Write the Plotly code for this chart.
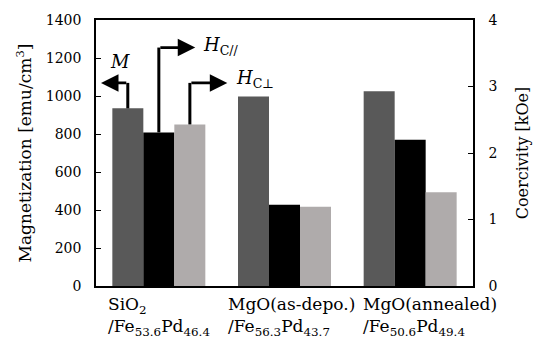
import plotly.graph_objects as go

# ---- data ----
categories = ["SiO2/Fe53.6Pd46.4", "MgO(as-depo.)/Fe56.3Pd43.7", "MgO(annealed)/Fe50.6Pd49.4"]
cat_labels = [
    "SiO<sub>2</sub><br>/Fe<sub>53.6</sub>Pd<sub>46.4</sub>",
    "MgO(as-depo.)<br>/Fe<sub>56.3</sub>Pd<sub>43.7</sub>",
    "MgO(annealed)<br>/Fe<sub>50.6</sub>Pd<sub>49.4</sub>",
]
magnetization = [935, 997, 1025]        # emu/cm3 (left axis)
hc_parallel = [2.31, 1.22, 2.20]        # kOe (right axis)
hc_perp = [2.43, 1.19, 1.41]            # kOe (right axis)

FONT = "DejaVu Serif, Liberation Serif, serif"
idx = list(range(len(categories)))

fig = go.Figure()
fig.add_trace(go.Bar(x=idx, y=magnetization, name="M", marker_color="#595959",
                     marker_line_width=0, offsetgroup="m", alignmentgroup="g", yaxis="y"))
fig.add_trace(go.Bar(x=idx, y=hc_parallel, name="Hc//", marker_color="#000000",
                     marker_line_width=0, offsetgroup="hp", alignmentgroup="g", yaxis="y2"))
fig.add_trace(go.Bar(x=idx, y=hc_perp, name="Hcperp", marker_color="#AFABAB",
                     marker_line_width=0, offsetgroup="hn", alignmentgroup="g", yaxis="y2"))

bw = 0.247  # bar width in category units (for arrow anchoring)
def to_left(v):  # convert kOe to left-axis units
    return v * 1400 / 4

shapes = []
annotations = []
# arrows: (bar x, bar top on left scale, elbow y, tip x)
arrows = [
    (0 - bw, magnetization[0], 1069, -0.46),
    (0.0, to_left(hc_parallel[0]), 1255, 0.29),
    (0 + bw, to_left(hc_perp[0]), 1069, 0.545),
]
for bx, top, ey, tx in arrows:
    shapes.append(dict(type="line", xref="x", yref="y", x0=bx, x1=bx, y0=top, y1=ey,
                       line=dict(color="black", width=3)))
    annotations.append(dict(x=tx, y=ey, ax=bx, ay=ey, xref="x", yref="y", axref="x", ayref="y",
                            text="", showarrow=True, arrowhead=2, arrowsize=1.25,
                            arrowwidth=2.8, arrowcolor="black"))

annotations.append(dict(x=-0.309, y=1183, xref="x", yref="y", text="<i>M</i>", showarrow=False,
                        font=dict(family=FONT, size=18, color="black")))
annotations.append(dict(x=0.335, y=1262, xref="x", yref="y", xanchor="left",
                        text="<i>H</i><sub>C//</sub>", showarrow=False,
                        font=dict(family=FONT, size=18, color="black")))
annotations.append(dict(x=0.595, y=1088, xref="x", yref="y", xanchor="left",
                        text="<i>H</i><sub>C⊥</sub>", showarrow=False,
                        font=dict(family=FONT, size=18, color="black")))

label_x = [-0.42, 0.535, 1.61]
for lx, lab in zip(label_x, cat_labels):
    annotations.append(dict(x=lx, y=0, xref="x", yref="paper", xanchor="left", yanchor="top",
                            yshift=-6, align="left", text=lab, showarrow=False,
                            font=dict(family=FONT, size=17, color="black")))

fig.update_layout(
    width=541, height=338,
    margin=dict(l=96, r=68, t=15, b=52),
    paper_bgcolor="white", plot_bgcolor="white",
    barmode="group", bargap=0.26, bargroupgap=0,
    showlegend=False,
    font=dict(family=FONT, size=14, color="black"),
    xaxis=dict(range=[-0.5, 2.5], showticklabels=False, ticks="", showline=True,
               linecolor="black", linewidth=1.5, mirror=True, showgrid=False, zeroline=False),
    yaxis=dict(range=[0, 1400], dtick=200, ticks="inside", ticklen=5, tickcolor="black",
               showline=True, linecolor="black", linewidth=1.5, showgrid=False, zeroline=False,
               ticklabelstandoff=10,
               title=dict(text="Magnetization [emu/cm<sup>3</sup>]",
                          font=dict(family=FONT, size=17), standoff=10),
               tickfont=dict(family=FONT, size=14)),
    yaxis2=dict(range=[0, 4], dtick=1, overlaying="y", side="right", ticks="inside", ticklen=5,
                tickcolor="black", showline=True, linecolor="black", linewidth=1.5,
                showgrid=False, zeroline=False, ticklabelstandoff=11,
                title=dict(text="Coercivity [kOe]", font=dict(family=FONT, size=16), standoff=20),
                tickfont=dict(family=FONT, size=14)),
    shapes=shapes,
    annotations=annotations,
)

fig.write_html("out.html")
